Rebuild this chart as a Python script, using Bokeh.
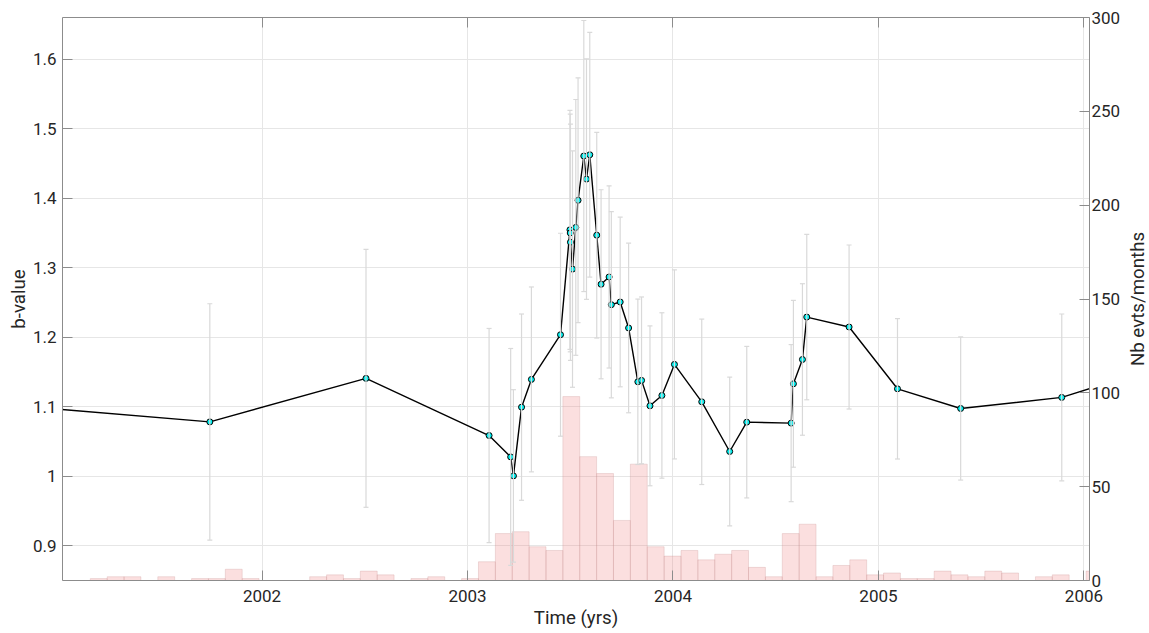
import math
from bokeh.plotting import figure
from bokeh.layouts import row
from bokeh.core.properties import value
from bokeh.models import (Range1d, LinearAxis, FixedTicker, Whisker, TeeHead,
                          ColumnDataSource, CustomJSTickFormatter)
from bokeh.embed import file_html
from bokeh.resources import INLINE

# ---- data ----
time = [2000.950, 2001.746, 2002.506, 2003.105, 2003.210, 2003.2235, 2003.263,
        2003.311, 2003.4526, 2003.4985, 2003.5000, 2003.5010, 2003.511, 2003.527,
        2003.538, 2003.566, 2003.579, 2003.595, 2003.629, 2003.650, 2003.689,
        2003.700, 2003.743, 2003.784, 2003.829, 2003.847, 2003.888, 2003.946,
        2004.007, 2004.140, 2004.276, 2004.359, 2004.575, 2004.586, 2004.630,
        2004.651, 2004.857, 2005.0925, 2005.400, 2005.892, 2006.100]
bval = [1.098, 1.0782, 1.1408, 1.0586, 1.0278, 1.0005, 1.0994,
        1.1393, 1.2036, 1.3545, 1.3500, 1.3367, 1.2980, 1.3580,
        1.3970, 1.4607, 1.4275, 1.4625, 1.3468, 1.2762, 1.2867,
        1.2468, 1.2507, 1.2133, 1.1359, 1.1379, 1.1013, 1.1162,
        1.1609, 1.1071, 1.0356, 1.0778, 1.0764, 1.1330, 1.1680,
        1.2290, 1.2147, 1.1258, 1.0975, 1.1134, 1.133]
berr = [0.170, 0.170, 0.1855, 0.154, 0.156, 0.124, 0.134,
        0.133, 0.146, 0.172, 0.171, 0.170, 0.170, 0.184,
        0.176, 0.195, 0.173, 0.176, 0.148, 0.136, 0.131,
        0.134, 0.122, 0.122, 0.119, 0.120, 0.115, 0.119,
        0.136, 0.119, 0.107, 0.109, 0.113, 0.120, 0.109,
        0.119, 0.118, 0.101, 0.103, 0.120, 0.120]

# monthly (30-day) event counts starting 2001.0
bin_start = 2001.0
bin_days = 30
counts = [0, 0, 1, 2, 2, 0, 2, 0, 1, 1, 6, 1, 0, 0, 0, 2, 3, 1, 5, 3,
          0, 1, 2, 0, 1, 10, 25, 26, 18, 16, 98, 66, 57, 32, 62, 18, 13, 16, 11, 14,
          16, 7, 2, 25, 30, 2, 8, 11, 3, 4, 1, 1, 5, 3, 2, 5, 4, 0, 2, 3,
          0, 5]

x_ticks = [2002, 2003, 2004, 2005, 2006]
b_ticks = [0.9, 1.0, 1.1, 1.2, 1.3, 1.4, 1.5, 1.6]
n_ticks = [0, 50, 100, 150, 200, 250, 300]

x_label = "Time (yrs)"
b_label = "b-value"
n_label = "Nb evts/months"

FONT = "Roboto"
TXT = "#262626"
AX = "#8c8c8c"

X0, X1 = 2001.029, 2006.027
B0, B1 = 0.85, 1.66

p = figure(width=1127, height=633,
           x_range=Range1d(X0, X1), y_range=Range1d(B0, B1),
           output_backend="svg", toolbar_location=None,
           min_border_left=62, min_border_right=38, min_border_top=17,
           min_border_bottom=53, x_axis_location=None, y_axis_location=None)
p.outline_line_color = None
p.background_fill_color = "white"
p.border_fill_color = "white"
p.extra_y_ranges = {"cnt": Range1d(0, 300)}


def style(ax, font_size="17px"):
    ax.axis_line_color = AX
    ax.major_tick_line_color = AX
    ax.major_tick_in = 10
    ax.major_tick_out = 0
    ax.minor_tick_line_color = None
    ax.major_label_text_font = FONT
    ax.major_label_text_font_size = font_size
    ax.major_label_text_color = TXT
    ax.axis_label_text_font = FONT
    ax.axis_label_text_font_size = "18.7px"
    ax.axis_label_text_font_style = "normal"
    ax.axis_label_text_color = TXT


# bottom axis
xb = LinearAxis(ticker=FixedTicker(ticks=x_ticks), axis_label=x_label,
                formatter=CustomJSTickFormatter(code="return tick.toFixed(0)"))
style(xb)
xb.major_label_standoff = 9
xb.axis_label_standoff = 2
p.add_layout(xb, "below")

# top axis (ticks only)
xt = LinearAxis(ticker=FixedTicker(ticks=x_ticks),
                formatter=CustomJSTickFormatter(code="return ''"))
style(xt, "0px")
xt.major_label_standoff = 0
p.add_layout(xt, "above")

# left axis
yl = LinearAxis(ticker=FixedTicker(ticks=b_ticks), axis_label=b_label,
                formatter=CustomJSTickFormatter(code="return String(Math.round(tick*10)/10)"))
style(yl)
yl.major_label_standoff = 6
yl.axis_label_standoff = 0
p.add_layout(yl, "left")

# right axis (counts); its title is drawn in a narrow side panel so that it
# reads bottom-to-top like the reference
yr = LinearAxis(y_range_name="cnt", ticker=FixedTicker(ticks=n_ticks),
                formatter=CustomJSTickFormatter(code="return tick.toFixed(0)"))
style(yr)
yr.major_label_standoff = 2
p.add_layout(yr, "right")

p.xgrid.ticker = FixedTicker(ticks=x_ticks)
p.ygrid.ticker = FixedTicker(ticks=b_ticks)
for g in (p.xgrid, p.ygrid):
    g.grid_line_color = "#e6e6e6"
    g.grid_line_width = 1

# histogram (right axis)
w = bin_days / 365.25
lefts = [bin_start + i * w for i in range(len(counts))]
rights = [l + w for l in lefts]
p.quad(left=lefts, right=rights, bottom=0, top=counts, y_range_name="cnt",
       fill_color="#f08080", fill_alpha=0.25, line_color="#c89090", line_alpha=0.35,
       line_width=0.8)

# error bars
src = ColumnDataSource(dict(t=time, b=bval,
                            lo=[b - e for b, e in zip(bval, berr)],
                            hi=[b + e for b, e in zip(bval, berr)]))
ecol = "#d9d9d9"
wh = Whisker(source=src, base="t", upper="hi", lower="lo", dimension="height",
             line_color=ecol, line_width=1.2,
             upper_head=TeeHead(size=5, line_color=ecol, line_width=1.2),
             lower_head=TeeHead(size=5, line_color=ecol, line_width=1.2))
wh.level = "glyph"
p.add_layout(wh)

p.line("t", "b", source=src, line_color="black", line_width=1.4)
p.scatter("t", "b", source=src, size=6, fill_color="#00f0f0", line_color="black",
          line_width=1)

# side panel holding the right-axis title
p2 = figure(width=22, height=633, x_range=Range1d(0, 1), y_range=Range1d(B0, B1),
            output_backend="svg", toolbar_location=None,
            min_border_left=0, min_border_right=0, min_border_top=17,
            min_border_bottom=53, x_axis_location=None, y_axis_location=None)
p2.outline_line_color = None
p2.grid.visible = False
p2.background_fill_color = "white"
p2.border_fill_color = "white"
p2.text(x=[0], y=[(B0 + B1) / 2], text=[n_label], angle=math.pi / 2, x_offset=10,
        text_align="center", text_baseline="middle", text_font=value(FONT),
        text_font_size=value("18.7px"), text_color=TXT)

layout = row(p, p2, spacing=0)
open("out.html", "w").write(file_html(layout, INLINE))
